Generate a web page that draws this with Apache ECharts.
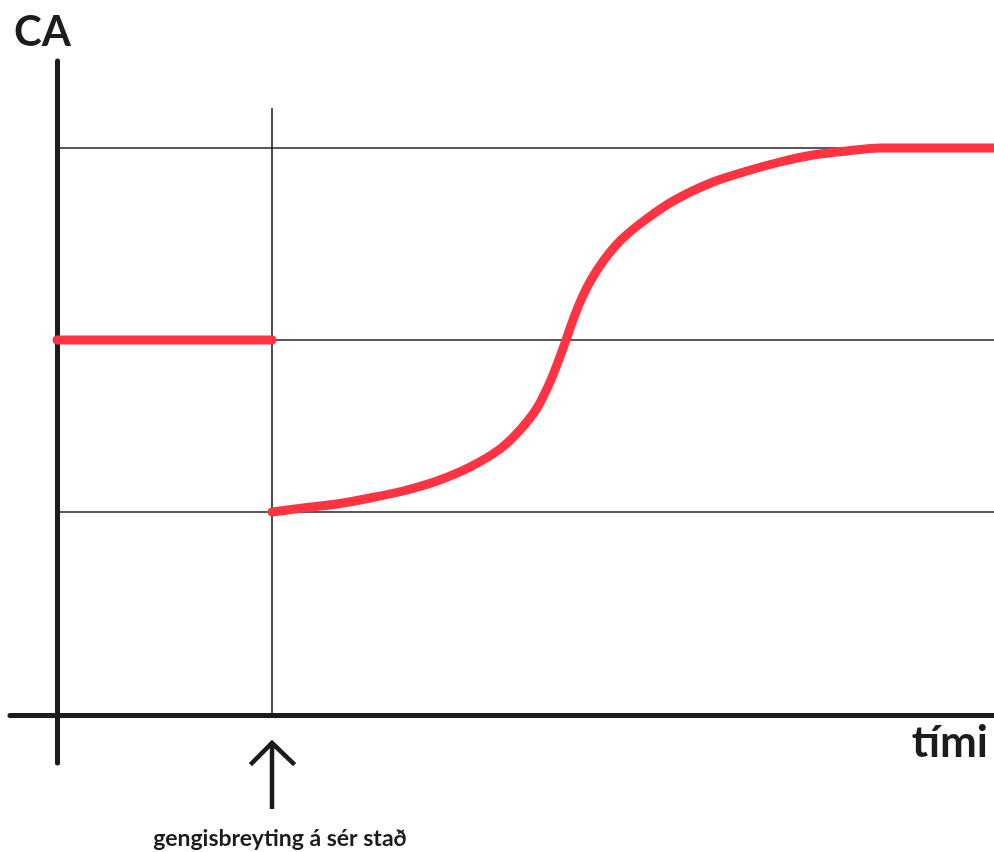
<!DOCTYPE html>
<html><head><meta charset="utf-8">
<script src="https://cdn.jsdelivr.net/npm/echarts@6/dist/echarts.min.js"></script>
<style>html,body{margin:0;padding:0;background:#fff}#c{width:994px;height:852px}</style>
</head><body><div id="c"></div>
<script>
// ---- data (time units, CA units; x-axis at CA = 0, y-axis at time = 0) ----
const xAxisName = 'tími';
const yAxisName = 'CA';
const noteText = 'gengisbreyting á sér stað';

const timeMin = -47, timeMax = 937;
const caMin = -48, caMax = 654;

const shockTime = 215;           // time of the exchange-rate change
const guideTop = 607;            // top of the vertical guide line
const gridLevels = [203, 375, 567];

const preTimes  = [0, 215];
const preValues = [375, 375];

const postTimes  = [215, 246, 280, 313, 346, 380, 413, 443, 463, 480, 493, 501, 509, 516, 524, 534, 547, 564, 588, 618, 656, 690, 723, 756, 790, 823, 937];
const postValues = [203, 207, 211, 217, 224, 234, 248, 266, 285, 307, 333, 353, 375, 395, 415, 435, 455, 475, 495, 515, 533, 544, 553, 560, 564, 567, 567];

const FONT = 'Lato, "Open Sans", sans-serif';
const INK = '#1c1c1c';
const RED = '#ff3341';

const chart = echarts.init(document.getElementById('c'), null, {renderer: 'canvas'});

const zip = (a, b) => a.map((v, i) => [v, b[i]]);

const series = [];
gridLevels.forEach(lv => series.push({
  type: 'line', data: [[0, lv], [timeMax, lv]], symbol: 'none', silent: true, z: 1,
  lineStyle: {color: '#222', width: 1.6}
}));
series.push({
  type: 'line', data: [[shockTime, 0], [shockTime, guideTop]], symbol: 'none', silent: true, z: 1,
  lineStyle: {color: '#222', width: 1.6}
});
series.push({
  type: 'line', data: zip(preTimes, preValues), symbol: 'none', z: 5,
  lineStyle: {color: RED, width: 9, cap: 'round'}
});
series.push({
  type: 'line', data: zip(postTimes, postValues), symbol: 'none', z: 5,
  smooth: 0.3,
  lineStyle: {color: RED, width: 9, cap: 'round', join: 'round'}
});

chart.setOption({
  animation: false,
  backgroundColor: '#fff',
  grid: {left: 10, right: 0, top: 61, bottom: 89, containLabel: false},
  xAxis: {
    type: 'value', min: timeMin, max: timeMax,
    axisLine: {show: true, onZero: true, lineStyle: {color: INK, width: 5}},
    axisTick: {show: false}, axisLabel: {show: false}, splitLine: {show: false},
    name: xAxisName, nameLocation: 'end', nameGap: -6,
    nameTextStyle: {fontFamily: FONT, fontWeight: 'bold', fontSize: 44, color: INK,
      align: 'right', verticalAlign: 'top', padding: [6, 0, 0, 0]}
  },
  yAxis: {
    type: 'value', min: caMin, max: caMax,
    axisLine: {show: true, onZero: true, lineStyle: {color: INK, width: 5}},
    axisTick: {show: false}, axisLabel: {show: false}, splitLine: {show: false},
    name: yAxisName, nameLocation: 'end', nameGap: 8,
    nameTextStyle: {fontFamily: FONT, fontWeight: 'bold', fontSize: 42, color: INK,
      align: 'center', padding: [0, 29, 0, 0]}
  },
  series: series
});

// arrow + note placed relative to the shock time on the x-axis
const p = chart.convertToPixel({gridIndex: 0}, [shockTime, 0]);
const ax = p[0], ay = p[1];
chart.setOption({
  graphic: [
    {type: 'polyline', shape: {points: [[ax, ay + 28], [ax, ay + 94]]},
      style: {stroke: INK, lineWidth: 4.5, fill: null}},
    {type: 'polyline', shape: {points: [[ax - 20, ay + 48], [ax, ay + 28], [ax + 21, ay + 48]]},
      style: {stroke: INK, lineWidth: 4.5, fill: null, lineJoin: 'miter', lineCap: 'square'}},
    {type: 'text', x: ax + 8, y: ay + 124,
      style: {text: noteText, fill: INK, font: 'bold 23px ' + FONT, align: 'center', verticalAlign: 'middle'}}
  ]
});
</script>
</body></html>
